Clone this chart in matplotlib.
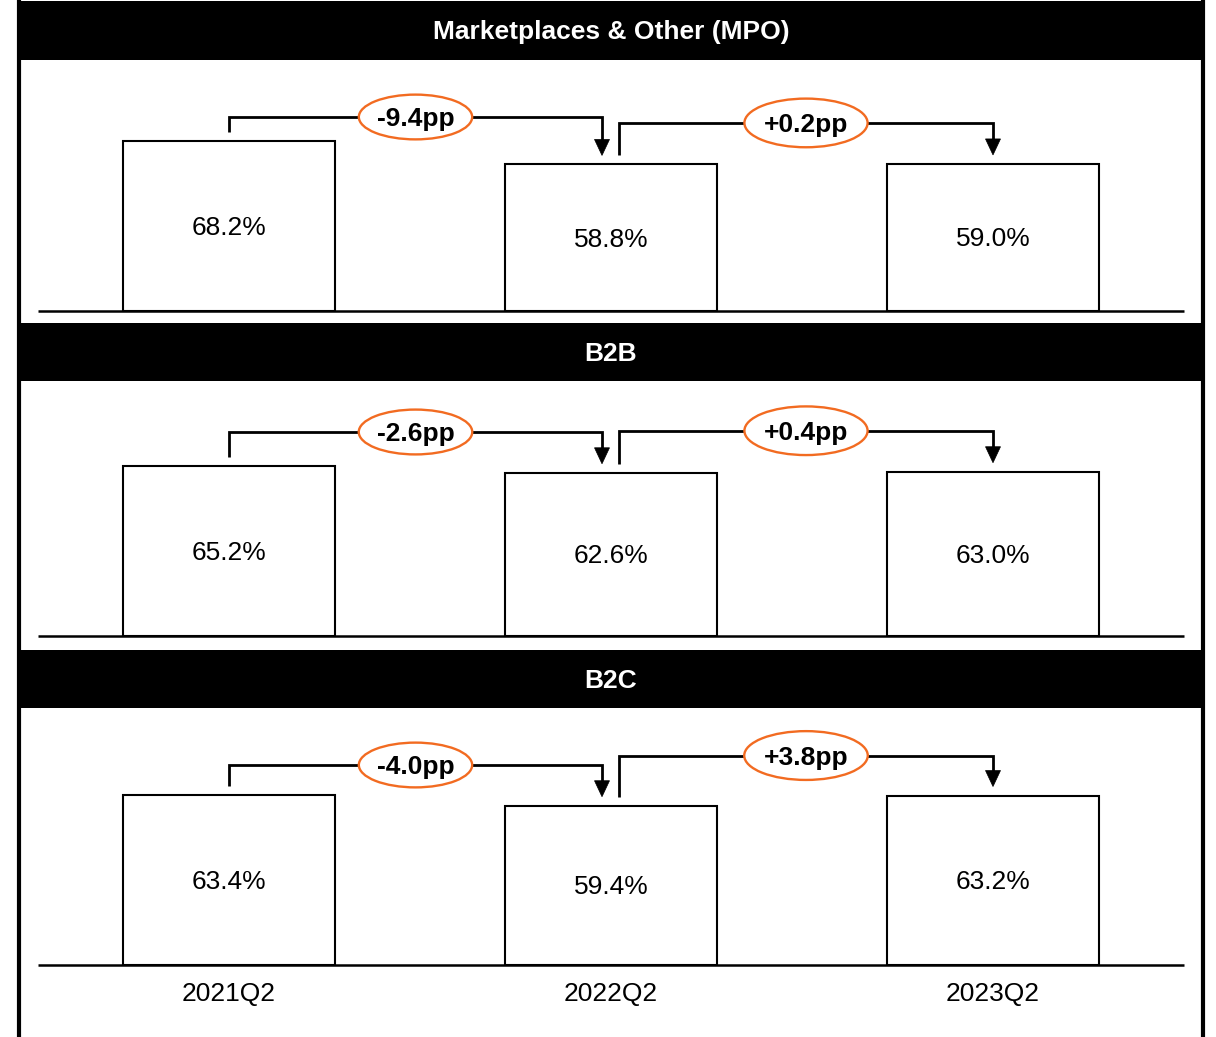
import matplotlib
matplotlib.use("Agg")
import matplotlib.pyplot as plt
from matplotlib.patches import Rectangle, Ellipse, Polygon
from matplotlib.lines import Line2D

plt.rcParams['font.family'] = ['Liberation Sans', 'DejaVu Sans']

# ---- data -------------------------------------------------------------
periods = ["2021Q2", "2022Q2", "2023Q2"]
segments = ["Marketplaces & Other (MPO)", "B2B", "B2C"]
mpo_share = [68.2, 58.8, 59.0]
b2b_share = [65.2, 62.6, 63.0]
b2c_share = [63.4, 59.4, 63.2]
segment_values = [mpo_share, b2b_share, b2c_share]

# ---- layout (pixels, measured from the top-left corner) ----------------
W, H = 1216, 1037
DPI = 100
header_rows = [(1, 60), (323, 381), (650, 708)]
baselines = [311, 636, 965]
frame_left, frame_right = 19, 1203
axes_left, axes_right = 21, 1201
bar_px = 170          # pixel height of the tallest bar in each panel
gap_px = 9            # gap between bracket ends and bar tops
bracket_rise = [(24, 41), (34, 41), (30, 40)]  # bracket height above higher bar
head_len_px, head_half_px = 16, 7.5
orange = "#F26B21"
FS = 19

fig = plt.figure(figsize=(W / DPI, H / DPI), dpi=DPI)
fig.patch.set_facecolor("white")
renderer = fig.canvas.get_renderer()


def fx(px):
    return px / W


def fy(py):
    return 1 - py / H


# x scale: category centres at 229, 611, 993 px
x0_px, step_px = 229, 382
xlim = ((axes_left - x0_px) / step_px, (axes_right - x0_px) / step_px)

for k, (name, vals) in enumerate(zip(segments, segment_values)):
    top, bot = header_rows[k]
    # black header band
    fig.patches.append(Rectangle((fx(frame_left), fy(bot)), fx(frame_right) - fx(frame_left),
                                 fy(top) - fy(bot), transform=fig.transFigure,
                                 facecolor="black", edgecolor="none", zorder=1))
    fig.text(fx(611), fy((top + bot) / 2 + 2), name, color="white", fontsize=FS,
             fontweight="bold", ha="center", va="center", zorder=3)

    base = baselines[k]
    ax_h_px = base - bot
    ax = fig.add_axes([fx(axes_left), fy(base), fx(axes_right) - fx(axes_left), ax_h_px / H])
    ymax = max(vals) * ax_h_px / bar_px
    upp = ymax / ax_h_px  # data units per pixel
    ax.set_xlim(*xlim)
    ax.set_ylim(0, ymax)
    ax.axis("off")

    xs = list(range(len(vals)))
    ax.bar(xs, vals, width=212 / step_px, facecolor="white", edgecolor="black",
           linewidth=1.5, zorder=2)
    ax.plot([-0.5, 2.5], [0, 0], color="black", lw=1.8, zorder=3, clip_on=False,
            solid_capstyle="butt")
    for x, v in zip(xs, vals):
        ax.text(x, v / 2 - 2 * upp, f"{v:.1f}%", ha="center", va="center",
                fontsize=FS, zorder=4)

    # change brackets between consecutive periods
    dx = gap_px / step_px
    for j in range(len(vals) - 1):
        a, b = vals[j], vals[j + 1]
        xa = j + (0 if j == 0 else 8 / step_px)
        xb = j + 1 - (dx if j == 0 else 0)
        yb = max(a, b) + bracket_rise[k][j] * upp
        ya0 = a + gap_px * upp
        yb_tip = b + gap_px * upp
        ax.plot([xa, xa, xb, xb], [ya0, yb, yb, yb_tip + (head_len_px - 2) * upp],
                color="black", lw=2.0, solid_joinstyle="miter", solid_capstyle="butt",
                zorder=3, clip_on=False)
        hw = head_half_px / step_px
        ax.add_patch(Polygon([(xb - hw, yb_tip + head_len_px * upp),
                              (xb + hw, yb_tip + head_len_px * upp),
                              (xb, yb_tip)], closed=True, facecolor="black",
                             edgecolor="black", lw=0.5, zorder=4, clip_on=False))
        xm = (xa + xb) / 2
        label = ax.text(xm, yb - 2 * upp, f"{b - a:+.1f}pp", ha="center", va="center",
                        fontsize=FS, fontweight="bold", zorder=6)
        # ellipse sized around the label text
        tw = label.get_window_extent(renderer).width
        ew = tw * 1.46
        eh = ew * 0.395
        ax.add_patch(Ellipse((xm, yb), ew / step_px, eh * upp, facecolor="white",
                             edgecolor=orange, lw=1.7, zorder=5, clip_on=False))

    if k == len(segments) - 1:
        for x, p in enumerate(periods):
            ax.text(x, -29 * upp, p, ha="center", va="center", fontsize=FS, clip_on=False)

# outer frame sides
for xp in (frame_left, frame_right):
    fig.lines.append(Line2D([fx(xp), fx(xp)], [0, 1], transform=fig.transFigure,
                            color="black", lw=3.0, zorder=5))

fig.savefig("out.png", dpi=DPI)
